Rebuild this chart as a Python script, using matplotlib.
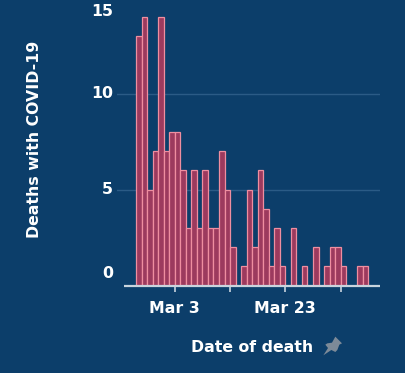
import matplotlib
matplotlib.use("Agg")
import matplotlib.pyplot as plt
import matplotlib.dates as mdates
from matplotlib.patches import Polygon
import pandas as pd

# daily deaths, first bar = 25 Feb 2020
start_date = "2020-02-25"
deaths = [13, 14, 5, 7, 14, 7, 8, 8, 6, 3, 6, 3, 6, 3, 3, 7, 5, 2, 0, 1, 5,
          2, 6, 4, 1, 3, 1, 0, 3, 0, 1, 0, 2, 0, 1, 2, 2, 1, 0, 0, 1, 1]
y_ticks = [0, 5, 10, 15]
x_tick_dates = ["2020-03-03", "2020-03-13", "2020-03-23", "2020-04-02"]
x_tick_labels = ["Mar 3", "", "Mar 23", ""]

bg = "#0c3e6a"
bar_fill = "#9c3a5e"
bar_edge = "#ef8ea0"
axis_col = "#c9d4de"
grid_col = "#2b5b86"
fs = 11.3

plt.rcParams['font.family'] = ['DejaVu Sans']
plt.rcParams['font.weight'] = 'bold'

dates = pd.date_range(start_date, periods=len(deaths))
d0 = mdates.date2num(dates[0])

fig = plt.figure(figsize=(4.06, 3.73), dpi=100, facecolor=bg)
ax = fig.add_axes([117 / 406, 1 - 285.7 / 373, 263 / 406, 285.7 / 373])
ax.set_facecolor(bg)
for sp in ax.spines.values():
    sp.set_visible(False)

ax.set_xlim(d0 - 3.44, d0 + 44.12)
ax.set_ylim(0, 14.88)

#gridlines
for v in y_ticks[1:]:
    ax.axhline(v, color=grid_col, lw=1.0, zorder=0)

ax.bar(dates, deaths, width=1.0, align='edge', color=bar_fill,
       edgecolor=bar_edge, linewidth=0.9, zorder=2)

# zero line
ax.plot([d0 - 2.2, d0 + 44.12], [0, 0], color=axis_col, lw=1.6, zorder=3,
        solid_capstyle='butt', clip_on=False)

ax.set_yticks([])
for v in y_ticks:
    ypos = min(max(v, 0.66), 14.26)
    ax.annotate(str(v), xy=(0, ypos), xycoords=('axes fraction', 'data'),
                xytext=(-3, 0), textcoords='offset points', ha='right',
                va='center', color='white', fontsize=fs, fontweight='bold')

ax.set_xticks(mdates.date2num(pd.to_datetime(x_tick_dates)))
ax.set_xticklabels(x_tick_labels)
ax.tick_params(axis='x', length=4, width=1.2, color=axis_col, pad=7,
               labelsize=fs, labelcolor='white')

fig.text(35 / 406, 1 - 139 / 373, "Deaths with COVID-19", rotation=90,
         ha='center', va='center', color='white', fontsize=fs,
         fontweight='bold')
fig.text(251.7 / 406, 1 - 348 / 373, "Date of death", ha='center',
         va='center', color='white', fontsize=fs, fontweight='bold')

# pin icon next to the axis title (shape traced in pixels)
pin = [(52, 8), (72, 28), (64, 32), (58, 48), (52, 54), (40, 48), (16, 64),
       (30, 42), (22, 32), (28, 28), (42, 26)]
pin_xy = [((318 + zx / 3) / 406, 1 - (334 + zy / 3) / 373) for zx, zy in pin]
fig.add_artist(Polygon(pin_xy, closed=True, transform=fig.transFigure,
                       facecolor="#7d8a98", edgecolor='none'))

fig.savefig("out.png", dpi=100, facecolor=bg)
